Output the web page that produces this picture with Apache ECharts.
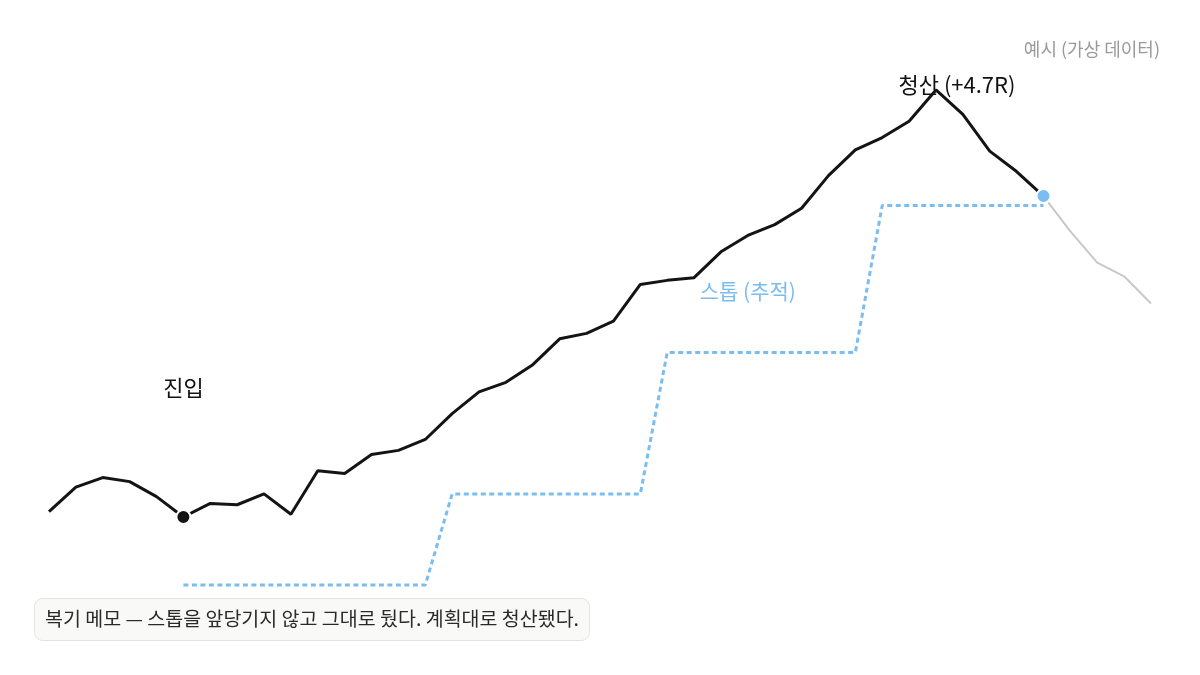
<!DOCTYPE html>
<html>
<head>
<meta charset="utf-8">
<script src="https://cdn.jsdelivr.net/npm/echarts@6/dist/echarts.min.js"></script>
<style>
  html, body { margin: 0; padding: 0; background: #fff; }
  #chart { width: 1200px; height: 675px; }
</style>
</head>
<body>
<div id="chart"></div>
<script>
// 가격 (진입가 = 100, 1R = 5)
var prices = [100.4, 102.2, 102.9, 102.6, 101.5, 100.0, 101.0, 100.9, 101.7, 100.2,
              103.4, 103.2, 104.6, 104.9, 105.7, 107.6, 109.2, 109.9, 111.2, 113.1,
              113.5, 114.4, 117.1, 117.4, 117.6, 119.5, 120.7, 121.5, 122.7, 125.1,
              127.0, 127.9, 129.1, 131.4, 129.6, 126.9, 125.4, 123.6,
              121.0, 118.7, 117.7, 115.7];
// 추적 스톱 (진입 후 ~ 청산까지)
var stops = [null, null, null, null, null,
             95.0, 95.0, 95.0, 95.0, 95.0, 95.0, 95.0, 95.0, 95.0, 95.0,
             101.7, 101.7, 101.7, 101.7, 101.7, 101.7, 101.7, 101.7,
             112.1, 112.1, 112.1, 112.1, 112.1, 112.1, 112.1, 112.1,
             122.9, 122.9, 122.9, 122.9, 122.9, 122.9, 122.9];
var entryIdx = 5;
var peakIdx = 33;
var exitIdx = 37;
var stopLabelIdx = 26;

var cats = prices.map(function (p, i) { return String(i); });

var held = prices.map(function (p, i) { return i <= exitIdx ? p : null; });
var after = prices.map(function (p, i) { return i >= exitIdx ? p : null; });

var font = '"Noto Sans CJK KR", "Noto Sans", sans-serif';

var myChart = echarts.init(document.getElementById('chart'));

var option = {
    animation: false,
    textStyle: { fontFamily: font },
    title: {
        text: '복기 메모 — 스톱을 앞당기지 않고 그대로 뒀다. 계획대로 청산됐다.',
        left: 34,
        top: 598,
        padding: [9, 11, 10, 11],
        backgroundColor: '#f9f9f8',
        borderColor: '#e3e3e3',
        borderWidth: 1,
        borderRadius: 8,
        textStyle: { fontFamily: font, fontSize: 19.5, fontWeight: 'normal', color: '#2a2a2a', lineHeight: 24 }
    },
    graphic: [{
        type: 'text',
        right: 40,
        top: 40,
        style: { text: '예시 (가상 데이터)', font: '18px ' + font, fill: '#9a9a9a' }
    }],
    grid: { left: 49, right: 49, top: 41, bottom: 22 },
    xAxis: {
        type: 'category',
        data: cats,
        boundaryGap: false,
        show: false
    },
    yAxis: {
        type: 'value',
        min: 90,
        max: 135,
        show: false
    },
    series: [
        {
            name: 'after',
            type: 'line',
            data: after,
            symbol: 'none',
            lineStyle: { color: '#c8c8c8', width: 2 },
            z: 1
        },
        {
            name: 'stop',
            type: 'line',
            data: stops,
            symbol: 'none',
            lineStyle: { color: '#7bbdf0', width: 3, type: [5, 3.5] },
            z: 2
        },
        {
            name: 'price',
            type: 'line',
            data: held,
            symbol: 'none',
            lineStyle: { color: '#141414', width: 3 },
            z: 3
        },
        {
            name: 'marks',
            type: 'scatter',
            z: 5,
            itemStyle: { opacity: 1 },
            data: [
                {
                    value: [entryIdx, prices[entryIdx]],
                    symbolSize: 14,
                    itemStyle: { color: '#141414', borderColor: '#fff', borderWidth: 2, opacity: 1 },
                    label: {
                        show: true, position: 'inside', offset: [0, -129],
                        formatter: '진입', fontSize: 22, color: '#111', fontFamily: font
                    }
                },
                {
                    value: [exitIdx, prices[exitIdx]],
                    symbolSize: 14,
                    itemStyle: { color: '#7bbdf0', borderColor: '#fff', borderWidth: 2, opacity: 1 },
                    label: { show: false }
                },
                {
                    value: [peakIdx, prices[peakIdx]],
                    symbolSize: 0,
                    label: {
                        show: true, position: 'inside', offset: [21, -5],
                        formatter: '청산 (+4.7R)', fontSize: 22, color: '#111', fontFamily: font
                    }
                },
                {
                    value: [stopLabelIdx, stops[stopLabelIdx]],
                    symbolSize: 0,
                    label: {
                        show: true, position: 'inside', offset: [0, -61],
                        formatter: '스톱 (추적)', fontSize: 21, color: '#7bbdf0', fontFamily: font
                    }
                }
            ]
        }
    ]
};

myChart.setOption(option);
</script>
</body>
</html>
